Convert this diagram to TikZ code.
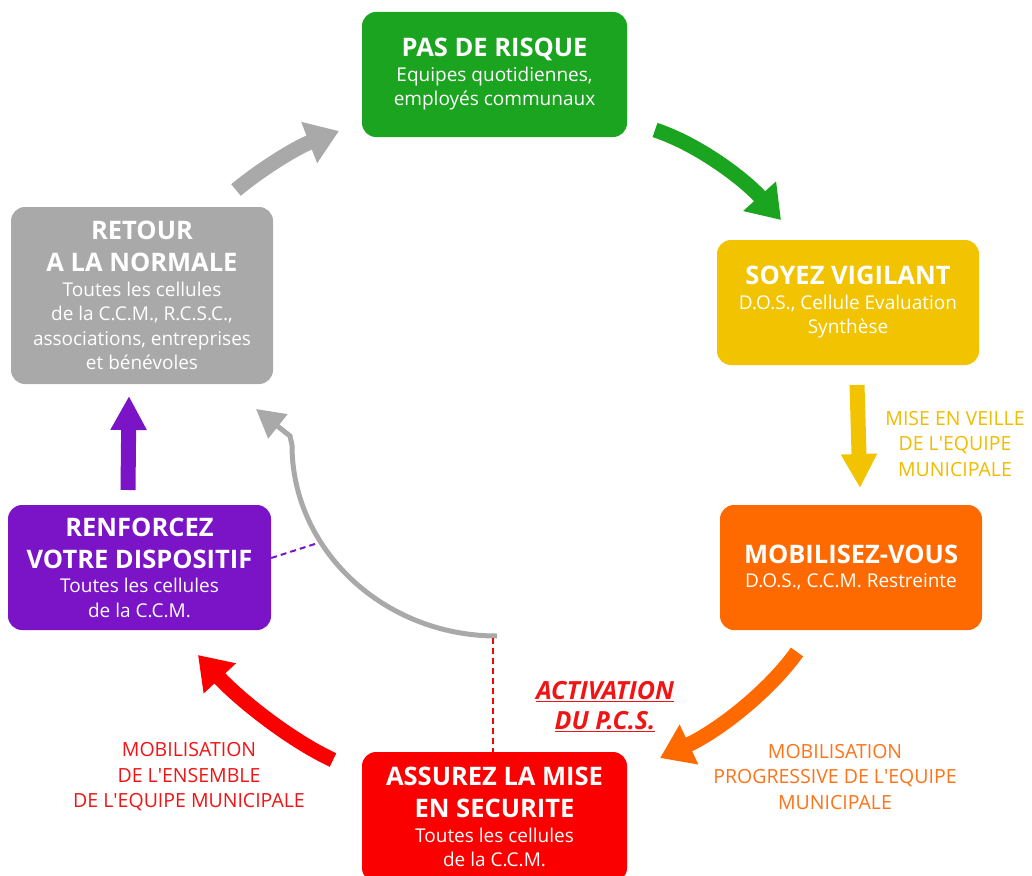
\documentclass[tikz,border=0pt]{standalone}
\usepackage{fontspec}
\setmainfont{Open Sans}
\usetikzlibrary{arrows.meta}
\definecolor{cgreen}{HTML}{1BA41F}
\definecolor{cyellow}{HTML}{F2C300}
\definecolor{corange}{HTML}{FF6A00}
\definecolor{cred}{HTML}{FA0000}
\definecolor{cpurple}{HTML}{7A14C6}
\definecolor{cgray}{HTML}{A9A9A9}
\definecolor{tyellow}{HTML}{F0BC00}
\definecolor{torange}{HTML}{FF7318}
\definecolor{tred}{HTML}{F01414}
\newcommand{\boxtitle}[1]{{\fontsize{25.5}{26}\selectfont\bfseries #1}}
\newcommand{\apo}{\textquotesingle}
\begin{document}
\begin{tikzpicture}[x=1pt,y=-1pt,
  box/.style={rounded corners=14pt, minimum width=265pt, minimum height=125pt,
    text=white, align=center, inner sep=0pt, font=\fontsize{19}{24.5}\selectfont},
  fat/.style={line width=15pt, -{Triangle[length=32pt,width=42pt]}},
  fatv/.style={line width=15pt, -{Triangle[length=34pt,width=34pt]}},
  lbl/.style={align=center, inner sep=0pt, font=\fontsize{19.5}{25.5}\selectfont}]
\path[use as bounding box] (0,0) rectangle (1032,875);
\clip (0,0) rectangle (1032,875);

% boxes
\node[box, fill=cgreen] (risque) at (494.5,74.5)
  {\boxtitle{PAS DE RISQUE}\\ Equipes quotidiennes,\\ employés communaux};
\node[box, fill=cyellow, minimum width=262pt] (vigil) at (848,302.5)
  {\boxtitle{SOYEZ VIGILANT}\\ D.O.S., Cellule Evaluation\\ Synthèse};
\node[box, fill=corange, minimum width=262pt] (mobil) at (851,567.5)
  {\boxtitle{MOBILISEZ-VOUS}\\ D.O.S., C.C.M. Restreinte};
\node[box, fill=cred, minimum height=130pt] (secu) at (494.5,817)
  {\boxtitle{ASSUREZ LA MISE}\\[7.5pt] \boxtitle{EN SECURITE}\\ Toutes les cellules\\ de la C.C.M.};
\node[box, fill=cpurple, minimum width=263pt] (renf) at (139.5,567.5)
  {\boxtitle{RENFORCEZ}\\[7.5pt] \boxtitle{VOTRE DISPOSITIF}\\ Toutes les cellules\\ de la C.C.M.};
\node[box, fill=cgray, minimum width=262pt, minimum height=177pt] (retour) at (142,295.5)
  {\boxtitle{RETOUR}\\[7.5pt] \boxtitle{A LA NORMALE}\\ Toutes les cellules\\ de la C.C.M., R.C.S.C.,\\ associations, entreprises\\ et bénévoles};

% thick arrows
\coordinate (g1) at (655,130);  \coordinate (g2) at (781,220);
\coordinate (y1) at (857,385);  \coordinate (y2) at (860,488);
\coordinate (o1) at (797,652);  \coordinate (o2) at (660,758);
\coordinate (r1) at (333,760);  \coordinate (r2) at (198,655);
\coordinate (p1) at (128,490);  \coordinate (p2) at (129,396);
\coordinate (a1) at (236,190);  \coordinate (a2) at (339,131);

\draw[fat, cgreen] (g1) .. controls (700,145) and (745,180) .. (g2);
\draw[fatv, cyellow] (y1) -- (y2);
\draw[fat, corange] (o1) .. controls (770,690) and (720,730) .. (o2);
\draw[fat, cred] (r1) .. controls (290,740) and (240,700) .. (r2);
\draw[fatv, cpurple] (p1) -- (p2);
\draw[fat, cgray] (a1) .. controls (260,170) and (295,148) .. (a2);

% thin gray return arc
\coordinate (arcend) at (497,636);
\coordinate (arctop) at (292,445);
\coordinate (bend) at (290,436);
\coordinate (thintip) at (256,409);
\draw[cgray, line width=5pt, -{Triangle[length=28pt,width=30pt]}]
  (arcend) .. controls (384,636) and (292,550) .. (arctop) -- (bend) -- (thintip);

% dashed links
\coordinate (rdash) at (493,638);
\draw[cred, line width=2pt, dash pattern=on 6pt off 4pt] (rdash) -- (rdash |- secu.north);
\coordinate (pdash) at (318,543);
\draw[cpurple, line width=2pt, dash pattern=on 6pt off 4pt] (renf.east |- 0,558) -- (pdash);

% labels
\node[lbl, text=tyellow] (lveille) at (955,444)
  {MISE EN VEILLE\\ DE L\apo EQUIPE\\ MUNICIPALE};
\node[lbl, text=tred, font=\fontsize{25}{30}\selectfont\bfseries\itshape] (lactiv) at (605,707)
  {\underline{ACTIVATION}\\ \underline{DU P.C.S.}};
\node[lbl, text=torange] (lprog) at (835,777)
  {MOBILISATION\\ PROGRESSIVE DE L\apo EQUIPE\\ MUNICIPALE};
\node[lbl, text=tred] (lens) at (189,777)
  {MOBILISATION\\ DE L\apo ENSEMBLE\\ DE L\apo EQUIPE MUNICIPALE};
\end{tikzpicture}
\end{document}
